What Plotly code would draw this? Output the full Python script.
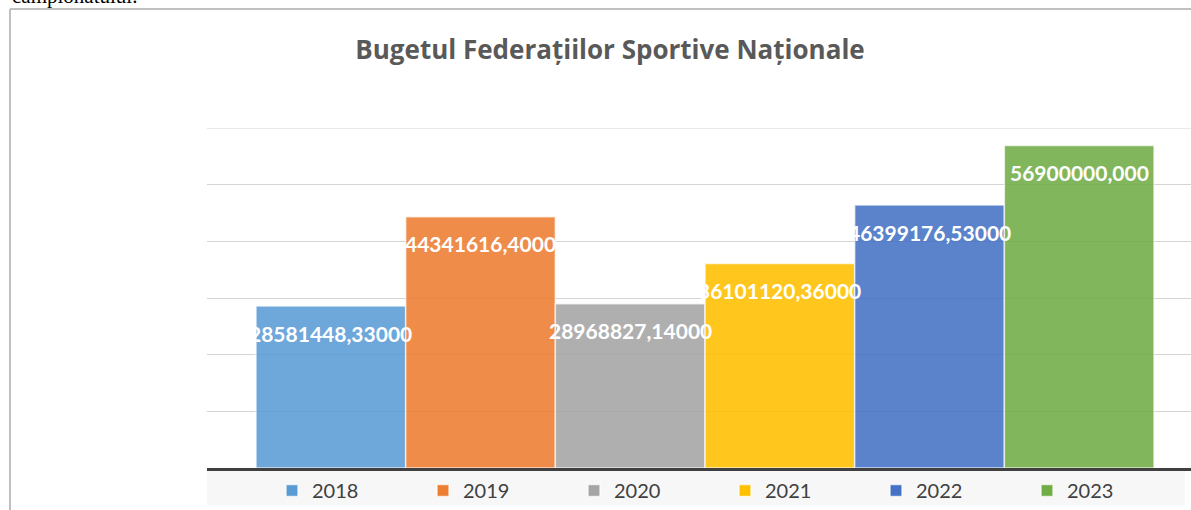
import plotly.graph_objects as go

years = ["2018", "2019", "2020", "2021", "2022", "2023"]
values = [28581448.33, 44341616.40, 28968827.14, 36101120.36, 46399176.53, 56900000.00]
labels = ["28581448,33000", "44341616,4000", "28968827,14000", "36101120,36000", "46399176,53000", "56900000,000"]
colors = ["#5B9BD5", "#ED7D31", "#A5A5A5", "#FFC000", "#4472C4", "#70AD47"]

W, H = 1191, 510
L, R, T, B = 207, 0, 128, 42
pw, ph = W - L - R, H - T - B

def px_x(x):
    return (x - L) / pw

def px_y(y):
    return (H - B - y) / ph

fig = go.Figure()
for i, (yr, v, c) in enumerate(zip(years, values, colors)):
    fig.add_trace(go.Bar(
        x=[i], y=[v], name=yr, width=1,
        marker=dict(color=c, opacity=0.88, line=dict(color="rgba(255,255,255,0.7)", width=1.5)),
        hoverinfo="skip",
    ))
    fig.add_annotation(x=i, y=v, text="<b>%s</b>" % labels[i], showarrow=False,
                       yshift=-27, yanchor="middle",
                       font=dict(family="Lato", size=21, color="white"))

unit = 149.67
xl = -0.5 - (256 - L) / unit
xr = xl + pw / unit
ymax = 60000000

fig.update_layout(
    width=W, height=H,
    margin=dict(l=L, r=R, t=T, b=B, autoexpand=False),
    paper_bgcolor="white", plot_bgcolor="white",
    barmode="overlay",
    showlegend=True,
    title=dict(text="<b>Bugetul Federațiilor Sportive Naționale</b>",
               x=610 / W, xref="container", xanchor="center",
               y=1 - 50 / H, yref="container", yanchor="middle",
               font=dict(family="Open Sans", size=26, color="#595959")),
    xaxis=dict(range=[xl, xr], showticklabels=False, showgrid=False, zeroline=False,
               showline=True, linecolor="#404040", linewidth=3, ticks=""),
    yaxis=dict(range=[0, ymax], dtick=10000000, showticklabels=False,
               showgrid=True, gridcolor="#d4d4d4", gridwidth=1, zeroline=False, ticks=""),
    legend=dict(orientation="h", x=px_x(272), xanchor="left", y=px_y(471), yanchor="top",
                entrywidth=106, entrywidthmode="pixels", itemwidth=30,
                font=dict(family="Lato", size=20, color="#404040"),
                bgcolor="rgba(0,0,0,0)", traceorder="normal"),
    font=dict(family="Lato"),
)

# top gridline at the edge of the plot area
fig.add_shape(type="line", xref="paper", yref="y", x0=0, x1=1, y0=ymax, y1=ymax,
              line=dict(color="#d4d4d4", width=1), layer="below")
# legend band
fig.add_shape(type="rect", xref="paper", yref="paper",
              x0=0, x1=px_x(1185), y0=px_y(505), y1=px_y(471),
              fillcolor="#f7f7f7", line=dict(width=0), layer="below")
# chart border
fig.add_shape(type="line", xref="paper", yref="paper",
              x0=px_x(10), x1=px_x(1195), y0=px_y(9), y1=px_y(9),
              line=dict(color="#c0c0c0", width=2))
fig.add_shape(type="line", xref="paper", yref="paper",
              x0=px_x(10), x1=px_x(10), y0=px_y(9), y1=px_y(515),
              line=dict(color="#c0c0c0", width=2))
# clipped text above chart
fig.add_annotation(xref="paper", yref="paper", x=px_x(10), y=px_y(10),
                   xanchor="left", yanchor="bottom", showarrow=False,
                   text="campionatului.", font=dict(family="Liberation Serif", size=21, color="black"))

fig.write_html("out.html", config={"displayModeBar": False},
               post_script="document.body.style.margin='0';document.body.style.overflow='hidden';")
